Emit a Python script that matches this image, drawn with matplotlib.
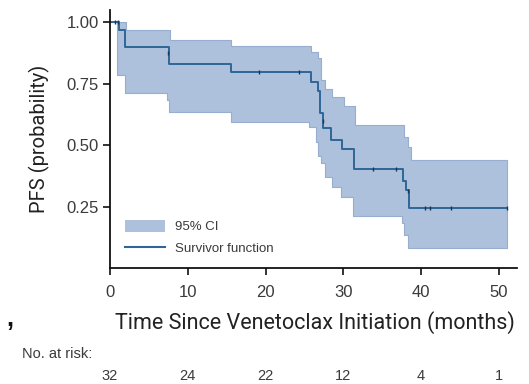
import matplotlib
matplotlib.use("Agg")
import matplotlib.pyplot as plt
from matplotlib.patches import Patch
from matplotlib.lines import Line2D
import numpy as np

# Kaplan-Meier estimate (step, post)
km_times = [0, 1.1, 1.9, 7.6, 15.6, 25.8, 26.7, 27.0, 27.4, 28.4, 29.8, 31.4, 37.7, 38.0, 38.5, 51.1]
km_surv = [1.0, 0.969, 0.90, 0.83, 0.796, 0.757, 0.719, 0.63, 0.57, 0.522, 0.486, 0.404, 0.355, 0.319, 0.245, 0.245]

# 95% CI bounds
upper_times = [0, 2.1, 7.7, 15.6, 25.8, 26.8, 27.1, 27.7, 28.6, 30.1, 31.5, 37.8, 38.3, 38.7, 51.1]
upper_vals = [1.0, 0.967, 0.929, 0.904, 0.881, 0.854, 0.766, 0.728, 0.696, 0.661, 0.583, 0.533, 0.495, 0.441, 0.441]
lower_times = [0, 0.85, 1.9, 7.3, 7.6, 15.6, 25.6, 26.5, 26.8, 27.1, 27.7, 28.5, 29.7, 31.3, 37.6, 37.8, 38.3, 51.1]
lower_vals = [1.0, 0.787, 0.714, 0.685, 0.637, 0.594, 0.576, 0.515, 0.455, 0.428, 0.373, 0.33, 0.292, 0.213, 0.184, 0.136, 0.082, 0.082]

# censored observations
cens_times = [0.6, 1.0, 7.5, 19.2, 24.3, 27.4, 33.8, 36.8, 38.3, 40.5, 41.1, 43.8, 51.0]
cens_vals = [1.0, 1.0, 0.876, 0.796, 0.796, 0.60, 0.404, 0.404, 0.315, 0.245, 0.245, 0.245, 0.245]

risk_times = [0, 10, 20, 30, 40, 50]
risk_counts = [32, 24, 22, 12, 4, 1]

BAND = "#adc0dc"
BAND_EDGE = "#98aecf"
LINE = "#2f6697"
TEXT = "#3a3a3a"


def step_at(times, vals, grid):
    idx = np.searchsorted(times, grid, side="right") - 1
    return np.asarray(vals)[np.clip(idx, 0, len(vals) - 1)]


plt.rcParams["font.family"] = ["Liberation Sans", "DejaVu Sans"]

fig = plt.figure(figsize=(5.29, 3.84), dpi=100)
ax = fig.add_axes([0.208, 0.301, 0.769, 0.673])

grid = np.union1d(upper_times, lower_times)
ax.fill_between(grid, step_at(lower_times, lower_vals, grid), step_at(upper_times, upper_vals, grid),
                step="post", facecolor=BAND, edgecolor=BAND_EDGE, linewidth=0.8)
ax.step(km_times, km_surv, where="post", color=LINE, linewidth=1.4)
ax.plot(cens_times, cens_vals, linestyle="none", marker="|", markersize=3,
        markeredgewidth=1.0, color="#1d3550")

ax.set_xlim(0, 52.3)
ax.set_ylim(0, 1.05)
ax.set_xticks(risk_times)
ax.set_yticks([0.25, 0.50, 0.75, 1.00])
ax.set_yticklabels(["0.25", "0.50", "0.75", "1.00"])
for side in ["top", "right"]:
    ax.spines[side].set_visible(False)
for side in ["left", "bottom"]:
    ax.spines[side].set_linewidth(1.3)
    ax.spines[side].set_color("#111111")
ax.tick_params(direction="out", length=5, width=1.2, labelsize=12, color="#111111",
               labelcolor=TEXT, pad=3)
ax.tick_params(axis="x", pad=7)

ax.set_ylabel("PFS (probability)", fontsize=14.5, family=["Roboto", "DejaVu Sans"],
              labelpad=12, color="#222222")

handles = [Patch(facecolor=BAND, edgecolor="none", label="95% CI"),
           Line2D([0], [0], color=LINE, linewidth=1.5, label="Survivor function")]
ax.legend(handles=handles, loc="lower left", bbox_to_anchor=(0.005, 0.0), frameon=False,
          fontsize=9.5, handlelength=3.0, handleheight=1.1, labelspacing=0.6,
          borderaxespad=0.6, labelcolor=TEXT)

fig.text(0.596, 0.16, "Time Since Venetoclax Initiation (months)", ha="center", va="center",
         fontsize=15.5, family=["Roboto", "DejaVu Sans"], color="#222222")
fig.text(0.012, 0.17, ",", ha="left", va="center", fontsize=18, fontweight="bold", color="#111111")
fig.text(0.041, 0.078, "No. at risk:", ha="left", va="center", fontsize=10.5, color=TEXT)
for t, n in zip(risk_times, risk_counts):
    x_fig = fig.transFigure.inverted().transform(ax.transData.transform((t, 0)))[0]
    fig.text(x_fig, 0.021, str(n), ha="center", va="center", fontsize=10.5, color=TEXT)

fig.savefig("out.png", dpi=100)
